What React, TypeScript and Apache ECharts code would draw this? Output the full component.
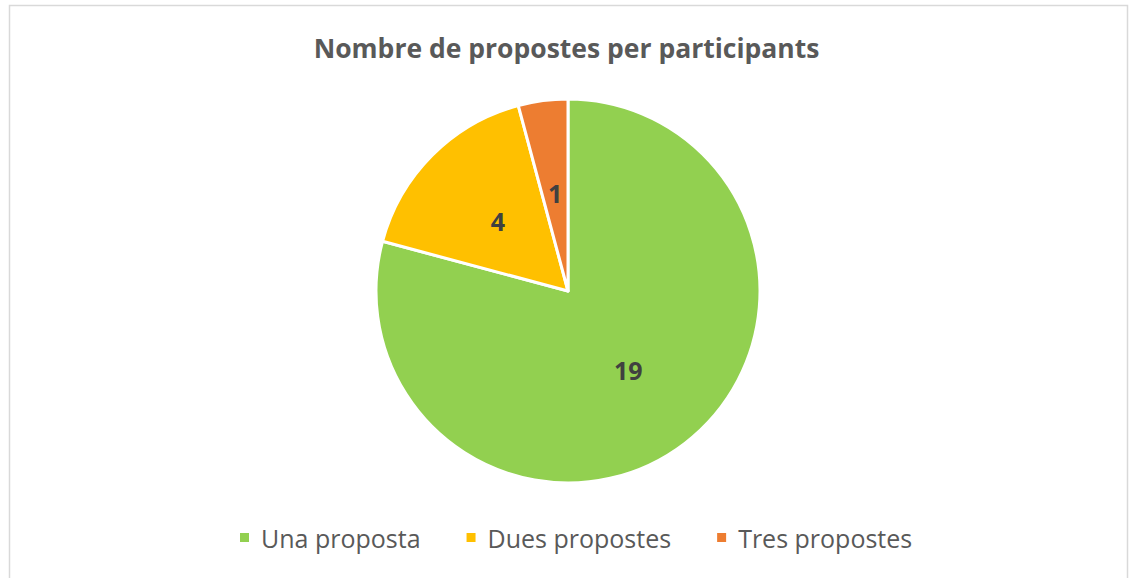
import React, { useEffect, useRef } from "react";
import * as echarts from "echarts";

const categories = ["Una proposta", "Dues propostes", "Tres propostes"];
const values = [19, 4, 1];
const colors = ["#92d050", "#ffc000", "#ed7d31"];
const titleText = "Nombre de propostes per participants";

export default function App() {
  const ref = useRef<HTMLDivElement>(null);
  useEffect(() => {
    if (!ref.current) return;
    const chart = echarts.init(ref.current, undefined, { renderer: "svg" });
    chart.setOption({
      animation: false,
      backgroundColor: "#ffffff",
      title: {
        text: titleText,
        left: "center",
        top: 29,
        textStyle: {
          fontFamily: "Open Sans",
          fontWeight: "bold",
          fontSize: 26.5,
          color: "#595959",
        },
      },
      legend: {
        bottom: 23,
        left: 233,
        itemWidth: 11,
        itemHeight: 11,
        itemGap: 44,
        icon: "rect",
        textStyle: {
          fontFamily: "Open Sans",
          fontSize: 25,
          color: "#595959",
          padding: [0, 0, 0, 6],
        },
        data: categories,
      },
      graphic: [
        {
          type: "rect",
          shape: { x: 9.5, y: 5.5, width: 1118, height: 600 },
          style: { fill: "none", stroke: "#d9d9d9", lineWidth: 1.5 },
          silent: true,
        },
      ],
      series: [
        {
          type: "pie",
          center: [568, 291],
          radius: 192,
          startAngle: 90,
          clockwise: true,
          label: {
            show: true,
            position: "inside",
            formatter: "{c}",
            fontFamily: "Open Sans",
            fontWeight: "bold",
            fontSize: 25,
            color: "#404040",
          },
          labelLine: { show: false },
          itemStyle: { borderColor: "#ffffff", borderWidth: 3 },
          data: categories.map((c, i) => ({
            name: c,
            value: values[i],
            itemStyle: { color: colors[i] },
          })),
        },
      ],
    });
    return () => chart.dispose();
  }, []);
  return (
    <div
      ref={ref}
      style={{ position: "fixed", left: 0, top: 0, width: 1133, height: 578 }}
    />
  );
}
